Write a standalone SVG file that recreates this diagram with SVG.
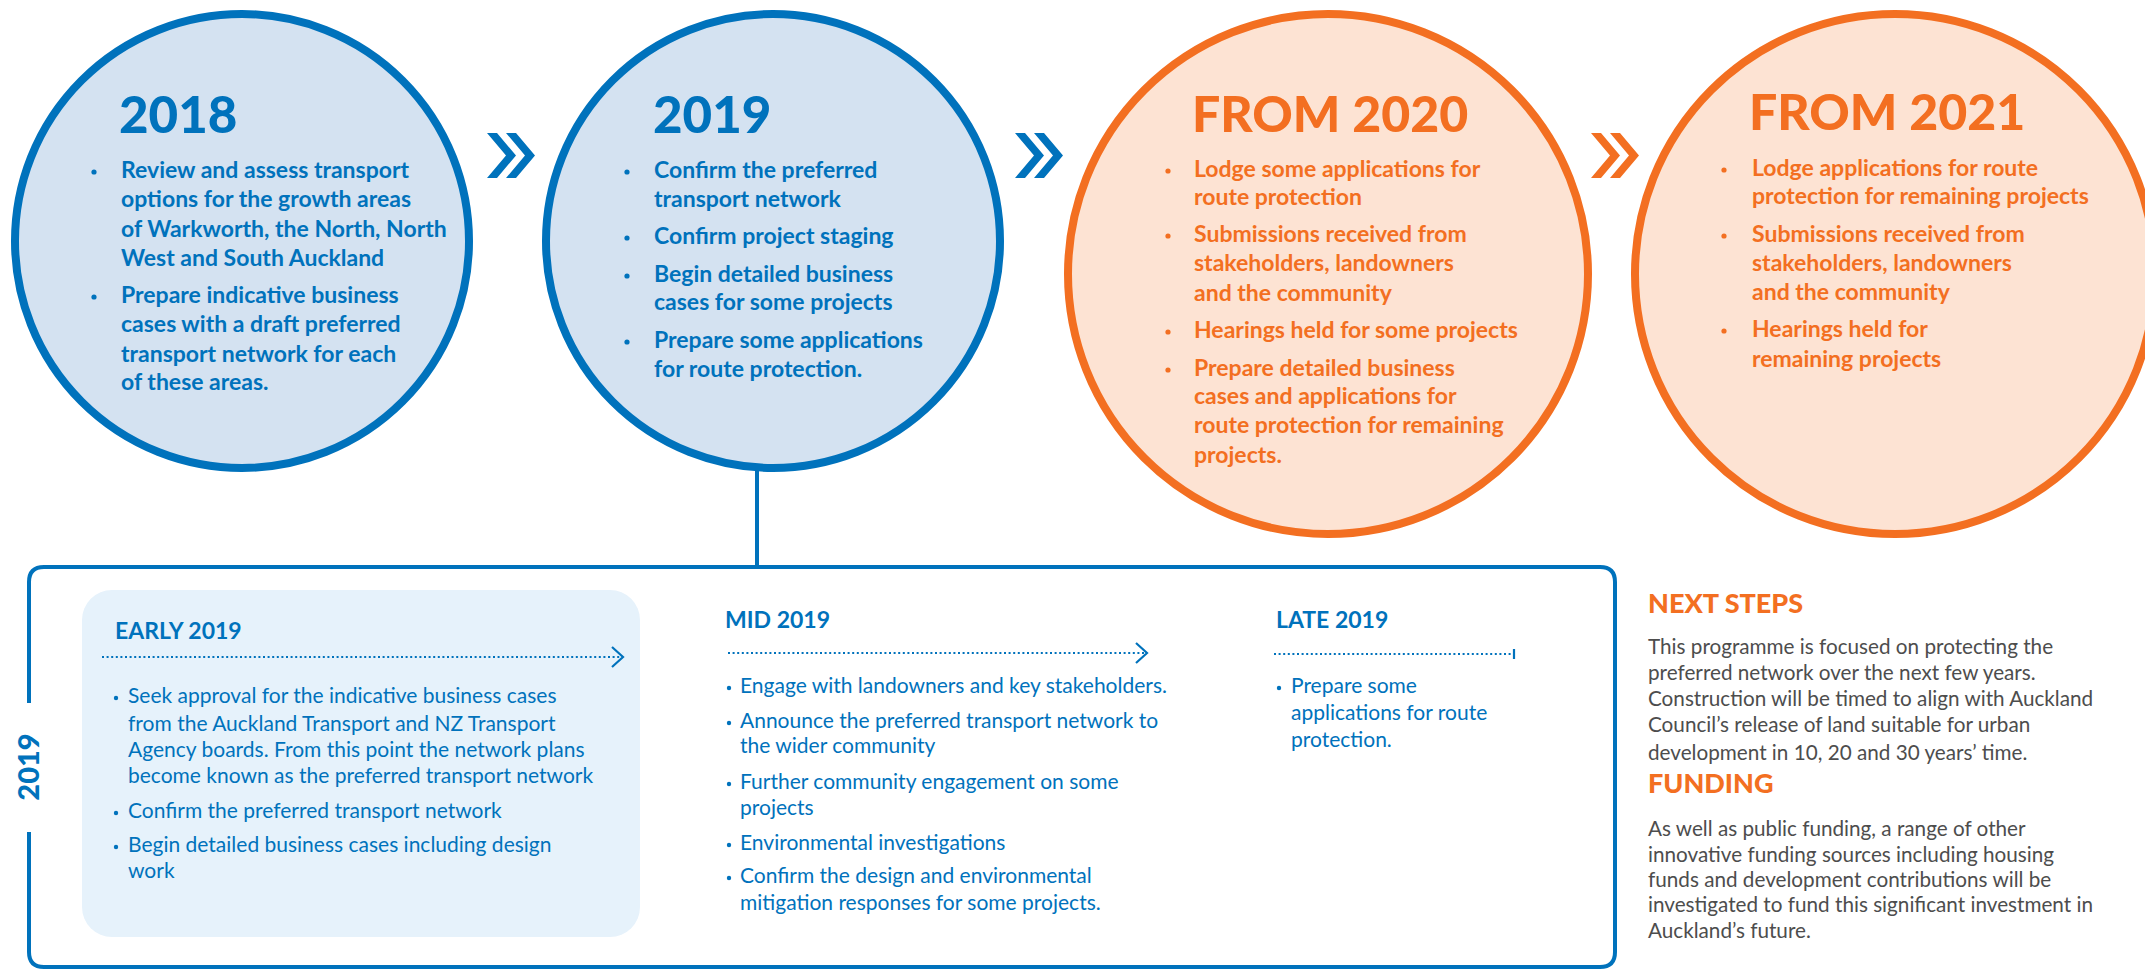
<svg xmlns="http://www.w3.org/2000/svg" width="2145" height="972" viewBox="0 0 2145 972">
<defs>
<style>
.bg{fill:#ffffff}
.cb{fill:#d4e2f1;stroke:#0072bc;stroke-width:8}
.co{fill:#fde3d3;stroke:#f36f21;stroke-width:8}
.hb{font-family:Lato,"Liberation Sans",sans-serif;font-weight:900;font-size:51px;fill:#0072bc}
.ho{font-family:Lato,"Liberation Sans",sans-serif;font-weight:900;font-size:50px;fill:#f36f21}
.tb{font-family:Lato,"Liberation Sans",sans-serif;font-weight:700;font-size:23px;fill:#0072bc}
.to{font-family:Lato,"Liberation Sans",sans-serif;font-weight:700;font-size:23px;fill:#f36f21}
.db{fill:#0072bc}
.do{fill:#f36f21}
.sh{font-family:Lato,"Liberation Sans",sans-serif;font-weight:700;font-size:23px;fill:#0072bc}
.st{font-family:Lato,"Liberation Sans",sans-serif;font-weight:400;font-size:21px;fill:#0072bc}
.nh{font-family:Lato,"Liberation Sans",sans-serif;font-weight:900;font-size:27px;fill:#f36f21}
.nt{font-family:Lato,"Liberation Sans",sans-serif;font-weight:400;font-size:20.7px;fill:#4d4d4d}
.frame{fill:none;stroke:#0072bc;stroke-width:4}
.conn{fill:none;stroke:#0072bc;stroke-width:4}
.dots{fill:none;stroke:#0072bc;stroke-width:2.2;stroke-dasharray:2 2.6}
.ah{fill:none;stroke:#0072bc;stroke-width:2.2}
</style>
<polygon id="chev" points="0,0 10,0 29,22.5 10,45 0,45 19,22.5"/>
</defs>
<rect class="bg" x="0" y="0" width="2145" height="972"/>

<g id="connectors">
<use href="#chev" x="487" y="133" class="db"/>
<use href="#chev" x="506" y="133" class="db"/>
<use href="#chev" x="1015" y="133" class="db"/>
<use href="#chev" x="1034" y="133" class="db"/>
<use href="#chev" x="1591" y="133" class="do"/>
<use href="#chev" x="1610" y="133" class="do"/>
<line class="conn" x1="757" y1="470" x2="757" y2="567"/>
</g>

<g id="node-2018">
<circle class="cb" cx="242" cy="241" r="227"/>
<text class="hb" x="119" y="133">2018</text>
<circle class="db" cx="94" cy="172" r="2.6"/>
<text class="tb" x="121" y="178">Review and assess transport</text>
<text class="tb" x="121" y="207">options for the growth areas</text>
<text class="tb" x="121" y="237">of Warkworth, the North, North</text>
<text class="tb" x="121" y="266">West and South Auckland</text>
<circle class="db" cx="94" cy="297" r="2.6"/>
<text class="tb" x="121" y="303">Prepare indicative business</text>
<text class="tb" x="121" y="332">cases with a draft preferred</text>
<text class="tb" x="121" y="362">transport network for each</text>
<text class="tb" x="121" y="390">of these areas.</text>
</g>

<g id="node-2019">
<circle class="cb" cx="773" cy="241" r="227"/>
<text class="hb" x="653" y="133">2019</text>
<circle class="db" cx="627" cy="172" r="2.6"/>
<text class="tb" x="654" y="178">Confirm the preferred</text>
<text class="tb" x="654" y="207">transport network</text>
<circle class="db" cx="627" cy="238" r="2.6"/>
<text class="tb" x="654" y="244">Confirm project staging</text>
<circle class="db" cx="627" cy="276" r="2.6"/>
<text class="tb" x="654" y="282">Begin detailed business</text>
<text class="tb" x="654" y="310">cases for some projects</text>
<circle class="db" cx="627" cy="342" r="2.6"/>
<text class="tb" x="654" y="348">Prepare some applications</text>
<text class="tb" x="654" y="377">for route protection.</text>
</g>

<g id="node-2020">
<circle class="co" cx="1328" cy="274" r="260"/>
<text class="ho" x="1192" y="132">FROM 2020</text>
<circle class="do" cx="1168" cy="171" r="2.6"/>
<text class="to" x="1194" y="177">Lodge some applications for</text>
<text class="to" x="1194" y="205">route protection</text>
<circle class="do" cx="1168" cy="236" r="2.6"/>
<text class="to" x="1194" y="242">Submissions received from</text>
<text class="to" x="1194" y="271">stakeholders, landowners</text>
<text class="to" x="1194" y="301">and the community</text>
<circle class="do" cx="1168" cy="332" r="2.6"/>
<text class="to" x="1194" y="338">Hearings held for some projects</text>
<circle class="do" cx="1168" cy="370" r="2.6"/>
<text class="to" x="1194" y="376">Prepare detailed business</text>
<text class="to" x="1194" y="404">cases and applications for</text>
<text class="to" x="1194" y="433">route protection for remaining</text>
<text class="to" x="1194" y="463">projects.</text>
</g>

<g id="node-2021">
<circle class="co" cx="1895" cy="274" r="260"/>
<text class="ho" x="1749" y="130">FROM 2021</text>
<circle class="do" cx="1724" cy="170" r="2.6"/>
<text class="to" x="1752" y="176">Lodge applications for route</text>
<text class="to" x="1752" y="204">protection for remaining projects</text>
<circle class="do" cx="1724" cy="236" r="2.6"/>
<text class="to" x="1752" y="242">Submissions received from</text>
<text class="to" x="1752" y="271">stakeholders, landowners</text>
<text class="to" x="1752" y="300">and the community</text>
<circle class="do" cx="1724" cy="331" r="2.6"/>
<text class="to" x="1752" y="337">Hearings held for</text>
<text class="to" x="1752" y="367">remaining projects</text>
</g>

<g id="frame-2019">
<path class="frame" d="M29,703 L29,582 Q29,567 44,567 L1600,567 Q1615,567 1615,582 L1615,952 Q1615,967 1600,967 L44,967 Q29,967 29,952 L29,832"/>
<text transform="translate(39,767) rotate(-90)" text-anchor="middle" font-family="Lato,'Liberation Sans',sans-serif" font-weight="900" font-size="29" fill="#0072bc">2019</text>
</g>

<g id="early-2019">
<rect x="82" y="590" width="558" height="347" rx="30" fill="#e6f2fb"/>
<text class="sh" x="115" y="639">EARLY 2019</text>
<line class="dots" x1="102" y1="657" x2="622" y2="657"/>
<polyline class="ah" points="612,647 623,657 612,667"/>
<circle class="db" cx="116" cy="698" r="2.2"/>
<text class="st" x="128" y="703">Seek approval for the indicative business cases</text>
<text class="st" x="128" y="731">from the Auckland Transport and NZ Transport</text>
<text class="st" x="128" y="757">Agency boards. From this point the network plans</text>
<text class="st" x="128" y="783">become known as the preferred transport network</text>
<circle class="db" cx="116" cy="813" r="2.2"/>
<text class="st" x="128" y="818">Confirm the preferred transport network</text>
<circle class="db" cx="116" cy="847" r="2.2"/>
<text class="st" x="128" y="852">Begin detailed business cases including design</text>
<text class="st" x="128" y="878">work</text>
</g>

<g id="mid-2019">
<text class="sh" x="725" y="628">MID 2019</text>
<line class="dots" x1="728" y1="653" x2="1145" y2="653"/>
<polyline class="ah" points="1136,643 1147,653 1136,663"/>
<circle class="db" cx="729" cy="688" r="2.2"/>
<text class="st" x="740" y="693">Engage with landowners and key stakeholders.</text>
<circle class="db" cx="729" cy="723" r="2.2"/>
<text class="st" x="740" y="728">Announce the preferred transport network to</text>
<text class="st" x="740" y="753">the wider community</text>
<circle class="db" cx="729" cy="784" r="2.2"/>
<text class="st" x="740" y="789">Further community engagement on some</text>
<text class="st" x="740" y="815">projects</text>
<circle class="db" cx="729" cy="845" r="2.2"/>
<text class="st" x="740" y="850">Environmental investigations</text>
<circle class="db" cx="729" cy="878" r="2.2"/>
<text class="st" x="740" y="883">Confirm the design and environmental</text>
<text class="st" x="740" y="910">mitigation responses for some projects.</text>
</g>

<g id="late-2019">
<text class="sh" x="1276" y="628">LATE 2019</text>
<line class="dots" x1="1274" y1="654" x2="1513" y2="654"/>
<line class="ah" x1="1514" y1="649" x2="1514" y2="659"/>
<circle class="db" cx="1279" cy="688" r="2.2"/>
<text class="st" x="1291" y="693">Prepare some</text>
<text class="st" x="1291" y="720">applications for route</text>
<text class="st" x="1291" y="747">protection.</text>
</g>

<g id="next-steps">
<text class="nh" x="1648" y="613">NEXT STEPS</text>
<text class="nt" x="1648" y="654">This programme is focused on protecting the</text>
<text class="nt" x="1648" y="680">preferred network over the next few years.</text>
<text class="nt" x="1648" y="706">Construction will be timed to align with Auckland</text>
<text class="nt" x="1648" y="732">Council’s release of land suitable for urban</text>
<text class="nt" x="1648" y="760">development in 10, 20 and 30 years’ time.</text>
<text class="nh" x="1648" y="793">FUNDING</text>
<text class="nt" x="1648" y="836">As well as public funding, a range of other</text>
<text class="nt" x="1648" y="862">innovative funding sources including housing</text>
<text class="nt" x="1648" y="887">funds and development contributions will be</text>
<text class="nt" x="1648" y="912">investigated to fund this significant investment in</text>
<text class="nt" x="1648" y="938">Auckland’s future.</text>
</g>
</svg>
